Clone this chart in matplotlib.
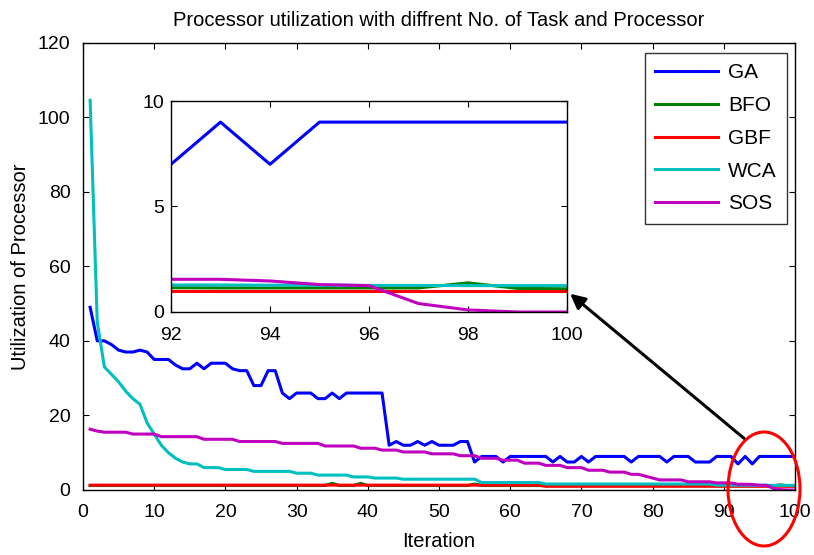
import numpy as np
import matplotlib
matplotlib.use("Agg")
import matplotlib.pyplot as plt
from matplotlib.patches import Ellipse, FancyArrowPatch

plt.rcParams['font.family'] = ['Liberation Sans', 'DejaVu Sans']

iterations = list(range(1, 101))

ga = [49, 40, 40, 39, 37.5, 37, 37, 37.5, 37, 35,
      35, 35, 33.5, 32.5, 32.5, 34, 32.5, 34, 34, 34,
      32.5, 32, 32, 28, 28, 32, 32, 26, 24.5, 26,
      26, 26, 24.5, 24.5, 26, 24.5, 26, 26, 26, 26,
      26, 26, 12, 13, 12, 12, 13, 12, 13, 12,
      12, 12, 13, 13, 7.5, 9, 9, 9, 7.5, 9,
      9, 9, 9, 9, 9, 7.5, 9, 7.5, 7.5, 9,
      7.5, 9, 9, 9, 9, 9, 7.5, 9, 9, 9,
      9, 7.5, 9, 9, 9, 7.5, 7.5, 7.5, 9, 9,
      9, 7, 9, 7, 9, 9, 9, 9, 9, 9]

bfo = [1.2] * 34 + [1.8] + [1.2] * 3 + [1.8] + [1.2] * 15 + [1.6] + [1.2] * 9 + \
      [1.15] * 28 + [1.14] * 5 + [1.38] + [1.12, 1.1]

gbf = [1.3] * 64 + [1.0] * 36

wca = [104.5, 45, 33, 31, 29, 26.5, 24.5, 23, 18, 15,
       12, 10, 8.5, 7.5, 7, 7, 6, 6, 6, 5.5,
       5.5, 5.5, 5.5, 5, 5, 5, 5, 5, 5, 4.5,
       4.5, 4.5, 4, 4, 4, 4, 4, 3.5, 3.5, 3.5,
       3.2, 3.2, 3.2, 3.2, 2.9, 2.9, 2.9, 2.9, 2.9, 2.9,
       2.9, 2.9, 2.9, 2.9, 2.9, 2, 2, 2, 2, 2,
       2, 2, 2, 2, 1.6, 1.6, 1.6, 1.6, 1.6, 1.6,
       1.6, 1.6, 1.6, 1.6, 1.6, 1.6, 1.6, 1.6, 1.6, 1.6,
       1.6, 1.6, 1.6, 1.6, 1.6, 1.6, 1.6, 1.6, 1.3, 1.3,
       1.3, 1.28, 1.28, 1.27, 1.27, 1.26, 1.26, 1.25, 1.25, 1.25]

sos = [16.3, 15.8, 15.5, 15.5, 15.5, 15.5, 15, 15, 15, 15,
       14.3, 14.3, 14.3, 14.3, 14.3, 14.3, 13.6, 13.6, 13.6, 13.6,
       13.6, 13, 13, 13, 13, 13, 13, 12.5, 12.5, 12.5,
       12.5, 12.5, 12.5, 11.8, 11.8, 11.8, 11.8, 11.8, 11.2, 11.2,
       11.2, 10.7, 10.7, 10.7, 10.2, 10.2, 10.2, 10.2, 9.7, 9.7,
       9.7, 9.7, 9.2, 9.2, 9.2, 8.5, 8.5, 8.5, 8, 8,
       8, 7.2, 7.2, 7.2, 6.6, 6.6, 6.6, 6, 6, 6,
       5.3, 5.3, 5.3, 4.8, 4.8, 4.8, 4.2, 4.2, 3.7, 3.2,
       2.7, 2.7, 2.7, 2.7, 2.2, 2.2, 2.2, 2.2, 1.9, 1.9,
       1.9, 1.55, 1.55, 1.47, 1.3, 1.25, 0.4, 0.1, 0.0, 0.0]

series_names = ["GA", "BFO", "GBF", "WCA", "SOS"]
series_values = [ga, bfo, gbf, wca, sos]
series_colors = ["#0000ff", "#008000", "#ff0000", "#00bfbf", "#bf00bf"]

x_ticks = list(range(0, 101, 10))
y_ticks = list(range(0, 121, 20))
inset_x_ticks = [92, 94, 96, 98, 100]
inset_y_ticks = [0, 5, 10]

W, H = 814, 555
fig = plt.figure(figsize=(W / 100, H / 100), dpi=100)

ax = fig.add_axes([83 / W, 1 - 490 / H, (795 - 83) / W, (490 - 42.5) / H])
for name, vals, col in zip(series_names, series_values, series_colors):
    ax.plot(iterations, vals, color=col, lw=2.2, label=name)
ax.set_xlim(0, 100)
ax.set_ylim(0, 120)
ax.set_xticks(x_ticks)
ax.set_yticks(y_ticks)
ax.tick_params(direction='in', top=True, right=True, length=4, labelsize=14)
ax.tick_params(axis='x', pad=10)
ax.tick_params(axis='y', pad=9)
ax.set_xlabel("Iteration", fontsize=14.5, labelpad=8)
ax.set_ylabel("Utilization of Processor", fontsize=14.5, labelpad=6)
ax.set_title("Processor utilization with diffrent No. of Task and Processor",
             fontsize=14.5, pad=12)
for s in ax.spines.values():
    s.set_linewidth(1.0)

leg = ax.legend(loc='upper right', bbox_to_anchor=(787 / W, 1 - 53 / H),
                bbox_transform=fig.transFigure, borderaxespad=0, fontsize=15,
                frameon=True, fancybox=False, edgecolor='black', handlelength=3.0,
                labelspacing=0.66, borderpad=0.5, handletextpad=0.5)
leg.get_frame().set_linewidth(1.0)

axin = fig.add_axes([171 / W, 1 - 312 / H, 396 / W, 211 / H])
for name, vals, col in zip(series_names, series_values, series_colors):
    axin.plot(iterations, vals, color=col, lw=2.2)
axin.set_xlim(92, 100)
axin.set_ylim(0, 10)
axin.set_xticks(inset_x_ticks)
axin.set_yticks(inset_y_ticks)
axin.tick_params(direction='in', top=True, right=True, length=4, labelsize=14)
axin.tick_params(axis='x', pad=11)
axin.tick_params(axis='y', pad=5)
for s in axin.spines.values():
    s.set_linewidth(1.0)

ell = Ellipse((764 / W, 1 - 489 / H), 72 / W, 114 / H, transform=fig.transFigure,
              fill=False, edgecolor='red', lw=2.2, clip_on=False)
fig.patches.append(ell)

arr = FancyArrowPatch((746 / W, 1 - 440 / H), (568 / W, 1 - 292 / H),
                      transform=fig.transFigure, arrowstyle='-|>',
                      mutation_scale=22, color='black', lw=2.2)
fig.patches.append(arr)

fig.savefig("out.png", dpi=100)
